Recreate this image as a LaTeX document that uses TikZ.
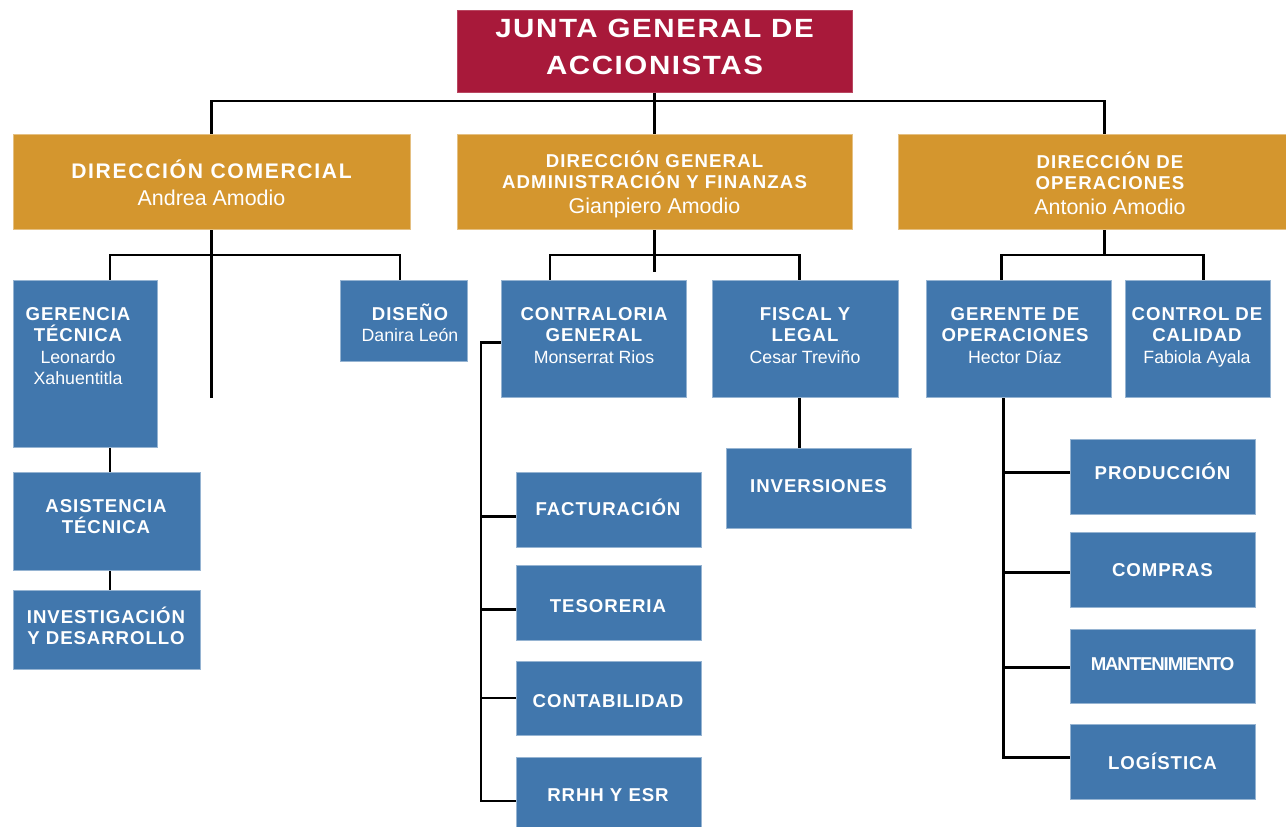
\documentclass[tikz,border=0pt]{standalone}
\usepackage{fontspec}
\setmainfont{Liberation Sans}
\newfontfamily\fTop[LetterSpace=6,FakeStretch=1.12]{Liberation Sans}
\newfontfamily\fHa[LetterSpace=8]{Liberation Sans}
\newfontfamily\fHb[LetterSpace=6]{Liberation Sans}
\newfontfamily\fBl[LetterSpace=5]{Liberation Sans}
\newfontfamily\fMan[LetterSpace=-6]{Liberation Sans}
\usetikzlibrary{fit,backgrounds,calc}
\definecolor{cRed}{HTML}{A8193A}
\definecolor{cOr}{HTML}{D4962E}
\definecolor{cBl}{HTML}{4177AD}
\newcommand\st{\rule{0pt}{1em}}
\newcommand\nmA{\normalfont\fontsize{12.2}{14}\selectfont}
\newcommand\nmB{\normalfont\fontsize{10.1}{12}\selectfont}
\begin{document}
\begin{tikzpicture}[x=0.02cm,y=-0.02cm,
  redbox/.style={fill=cRed,draw=cRed!80!white,line width=0.5pt,inner sep=0pt},
  orbox/.style={fill=cOr,draw=cOr!60!white,line width=0.5pt,inner sep=0pt},
  bluebox/.style={fill=cBl,draw=cBl!55!white,line width=0.5pt,inner sep=0pt},
  lbl/.style={anchor=north,inner sep=0pt,align=center,text=white},
  toptxt/.style={lbl,font=\fTop\bfseries\fontsize{15}{21}\selectfont},
  hatxt/.style={lbl,font=\fHa\bfseries\fontsize{12}{15.4}\selectfont},
  hbtxt/.style={lbl,font=\fHb\bfseries\fontsize{10.6}{12}\selectfont},
  bltxt/.style={lbl,font=\fBl\bfseries\fontsize{10.6}{12.2}\selectfont},
  conn/.style={line width=1.7pt,black,line cap=rect}]
\useasboundingbox (0,0) rectangle (1286,827);

% boxes
\node[redbox, fit={(457,10)(852,92)}] (top) {};
\node[orbox, fit={(13,134)(410,229)}] (dc) {};
\node[orbox, fit={(457,134)(852,229)}] (dg) {};
\node[orbox, fit={(898,134)(1322,229)}] (do) {};
\node[bluebox, fit={(13,280)(157,447)}] (gt) {};
\node[bluebox, fit={(340,280)(467,361)}] (dis) {};
\node[bluebox, fit={(13,472)(200,570)}] (at) {};
\node[bluebox, fit={(13,590)(200,669)}] (id) {};
\node[bluebox, fit={(501,280)(686,397)}] (cg) {};
\node[bluebox, fit={(712,280)(898,397)}] (fl) {};
\node[bluebox, fit={(516,472)(701,547)}] (fac) {};
\node[bluebox, fit={(516,565)(701,640)}] (tes) {};
\node[bluebox, fit={(516,661)(701,735)}] (con) {};
\node[bluebox, fit={(516,757)(701,845)}] (rr) {};
\node[bluebox, fit={(726,448)(911,528)}] (inv) {};
\node[bluebox, fit={(926,280)(1111,397)}] (go) {};
\node[bluebox, fit={(1125,280)(1270,397)}] (cc) {};
\node[bluebox, fit={(1070,439)(1255,514)}] (pro) {};
\node[bluebox, fit={(1070,532)(1255,607)}] (com) {};
\node[bluebox, fit={(1070,629)(1255,703)}] (man) {};
\node[bluebox, fit={(1070,724)(1255,799)}] (log) {};

% texts
\node[toptxt] (t-top) at (654.5,10.6) {\st JUNTA GENERAL DE\\ACCIONISTAS};
\node[hatxt] (t-dc) at (211.5,157) {\st DIRECCIÓN COMERCIAL\\\nmA Andrea Amodio};
\node[hbtxt] (t-dg) at (654.5,148.4) {\st DIRECCIÓN GENERAL\\ADMINISTRACIÓN Y FINANZAS\\[2.2pt]\nmA Gianpiero Amodio};
\node[hbtxt] (t-do) at (1110,149.4) {\st DIRECCIÓN DE\\OPERACIONES\\[2.2pt]\nmA Antonio Amodio};
\node[bltxt] (t-gt) at (78,301.4) {\st GERENCIA\\TÉCNICA\\\nmB Leonardo\\\nmB Xahuentitla};
\node[bltxt] (t-dis) at (410,301.4) {\st DISEÑO\\\nmB Danira León};
\node[bltxt] (t-at) at (106,493.1) {\st ASISTENCIA\\TÉCNICA};
\node[bltxt] (t-id) at (106,604.4) {\st INVESTIGACIÓN\\Y DESARROLLO};
\node[bltxt] (t-cg) at (594,301.4) {\st CONTRALORIA\\GENERAL\\\nmB Monserrat Rios};
\node[bltxt] (t-fl) at (805,301.4) {\st FISCAL Y\\LEGAL\\\nmB Cesar Treviño};
\node[bltxt] (t-fac) at (608,496.4) {\st FACTURACIÓN};
\node[bltxt] (t-tes) at (608,593.1) {\st TESORERIA};
\node[bltxt] (t-con) at (608,688.4) {\st CONTABILIDAD};
\node[bltxt] (t-rr) at (608,782.4) {\st RRHH Y ESR};
\node[bltxt] (t-inv) at (818.5,473.1) {\st INVERSIONES};
\node[bltxt] (t-go) at (1015,301.4) {\st GERENTE DE\\OPERACIONES\\\nmB Hector Díaz};
\node[bltxt] (t-cc) at (1197,301.4) {\st CONTROL DE\\CALIDAD\\\nmB Fabiola Ayala};
\node[bltxt] (t-pro) at (1162.5,460.4) {\st PRODUCCIÓN};
\node[bltxt] (t-com) at (1162.5,557.1) {\st COMPRAS};
\node[bltxt,font=\fMan\bfseries\fontsize{10.6}{12.2}\selectfont] (t-man) at (1162.5,651.4) {\st MANTENIMIENTO};
\node[bltxt] (t-log) at (1162.5,750.4) {\st LOGÍSTICA};

% connectors
\begin{scope}[on background layer]
\coordinate (b0) at (654.5,101);
\coordinate (do-in) at (1104,134);
\draw[conn] (top.south) -- (dg.north);
\draw[conn] (dc.north) |- (b0) -| (do-in);
% comercial
\coordinate (cbus) at (211.5,255);
\coordinate (dc-tail) at (211.5,397);
\coordinate (gt-top) at (110,280);
\coordinate (dis-top) at (400,280);
\draw[conn] (dc.south) -- (dc-tail);
\draw[conn] (gt-top) |- (cbus) -| (dis-top);
\draw[conn] (gt-top |- gt.south) -- (gt-top |- at.north);
\draw[conn] (gt-top |- at.south) -- (gt-top |- id.north);
% admin
\coordinate (gbus) at (654.5,255);
\coordinate (dg-tail) at (654.5,271);
\coordinate (cg-top) at (550,280);
\coordinate (fl-top) at (799.5,280);
\draw[conn] (dg.south) -- (dg-tail);
\draw[conn] (cg-top) |- (gbus) -| (fl-top);
\draw[conn] (fl-top |- fl.south) -- (fl-top |- inv.north);
\coordinate (cvbus) at (481,801);
\draw[conn] ([yshift=-2.5pt]cg.west) -| (cvbus);
\path ([yshift=-4pt]fac.west) coordinate (facw);
\path ([yshift=-4pt]tes.west) coordinate (tesw);
\draw[conn] (facw) -- (facw -| cvbus);
\draw[conn] (tesw) -- (tesw -| cvbus);
\draw[conn] (con.west) -- (con.west -| cvbus);
\draw[conn] (rr.west) -- (rr.west -| cvbus);
% operaciones
\coordinate (obus) at (1104,255);
\coordinate (go-top) at (1001,280);
\coordinate (cc-top) at (1203,280);
\draw[conn] (do-in |- do.south) -- (obus);
\draw[conn] (go-top) |- (obus) -| (cc-top);
\coordinate (ovbus) at (1003,757);
\draw[conn] (ovbus |- go.south) -- (ovbus);
\path ([yshift=2.5pt]pro.west) coordinate (prow);
\path ([yshift=-1.5pt]com.west) coordinate (comw);
\path ([yshift=-1pt]man.west) coordinate (manw);
\path ([yshift=2.5pt]log.west) coordinate (logw);
\draw[conn] (prow) -- (prow -| ovbus);
\draw[conn] (comw) -- (comw -| ovbus);
\draw[conn] (manw) -- (manw -| ovbus);
\draw[conn] (logw) -- (logw -| ovbus);
\end{scope}
\end{tikzpicture}
\end{document}
